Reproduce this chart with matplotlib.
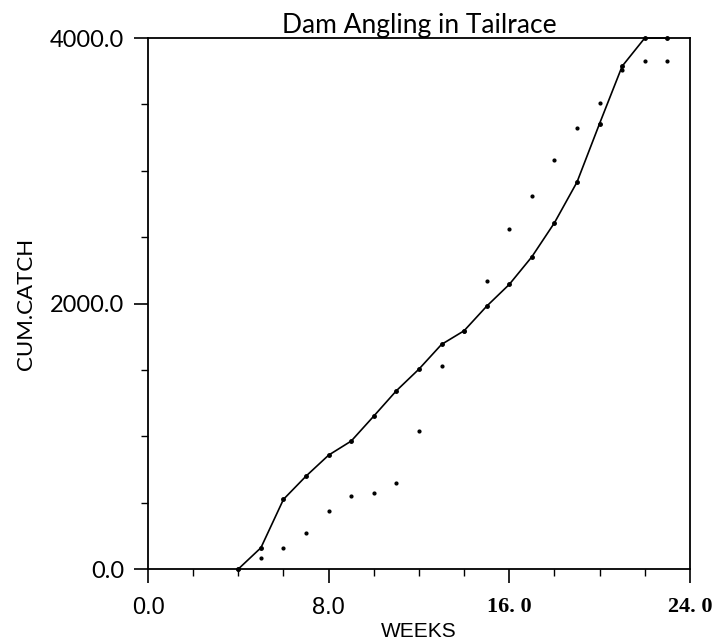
import matplotlib
matplotlib.use("Agg")
import matplotlib.pyplot as plt
from matplotlib.ticker import MultipleLocator

# Cumulative catch, fitted line (solid) by week
line_weeks = [4, 5, 6, 7, 8, 9, 10, 11, 12, 13, 14, 15, 16, 17, 18, 19, 20, 21, 22, 23]
line_catch = [0, 160, 525, 700, 858, 964, 1152, 1343, 1506, 1692, 1795, 1980,
              2144, 2352, 2608, 2915, 3356, 3788, 4000, 4000]

# Observed cumulative catch (dots)
obs_weeks = [4, 5, 6, 7, 8, 9, 10, 11, 12, 13, 14, 15, 16, 17, 18, 19, 20, 21, 22, 23]
obs_catch = [0, 85, 160, 273, 434, 547, 572, 650, 1037, 1531, 1795, 2171, 2561, 2809,
             3085, 3323, 3511, 3760, 3825, 3825]

x_ticks = [0, 8, 16, 24]
x_labels = ["0.0", "8.0", "16. 0", "24. 0"]
y_ticks = [0, 2000, 4000]
y_labels = ["0.0", "2000.0", "4000.0"]

fig = plt.figure(figsize=(7.13, 6.42), dpi=100)
ax = fig.add_axes([0.2076, 0.1137, 0.76, 0.827])

ax.plot(line_weeks, line_catch, color="black", linewidth=1.2,
        marker="o", markersize=2.5, clip_on=False)
ax.plot(obs_weeks, obs_catch, linestyle="none", color="black",
        marker="o", markersize=2, clip_on=False)

ax.set_xlim(0, 24)
ax.set_ylim(0, 4000)

ax.set_xticks(x_ticks)
ax.set_xticklabels(x_labels)
ax.set_yticks(y_ticks)
ax.set_yticklabels(y_labels)
ax.xaxis.set_minor_locator(MultipleLocator(2))
ax.yaxis.set_minor_locator(MultipleLocator(500))

ax.tick_params(which="major", direction="out", length=10, width=1.2, pad=10)
ax.tick_params(which="minor", direction="out", length=5, width=1.0)
ax.tick_params(axis="y", which="major", pad=7)

for lab in ax.get_yticklabels():
    lab.set_fontfamily("Lato")
    lab.set_fontsize(17)
for lab in ax.get_xticklabels()[:2]:
    lab.set_fontfamily("Liberation Sans")
    lab.set_fontsize(17)
for lab in ax.get_xticklabels()[2:]:
    lab.set_fontfamily("Liberation Serif")
    lab.set_fontweight("bold")
    lab.set_fontsize(16)

for sp in ax.spines.values():
    sp.set_linewidth(1.3)

ax.set_title("Dam Angling in Tailrace", fontfamily="Lato", fontsize=19, pad=2)
ax.set_xlabel("WEEKS", fontfamily="Liberation Sans", fontsize=15, labelpad=2)
ax.set_ylabel("CUM.CATCH", fontfamily="Lato", fontsize=16, labelpad=10)

fig.savefig("out.png", dpi=100)
